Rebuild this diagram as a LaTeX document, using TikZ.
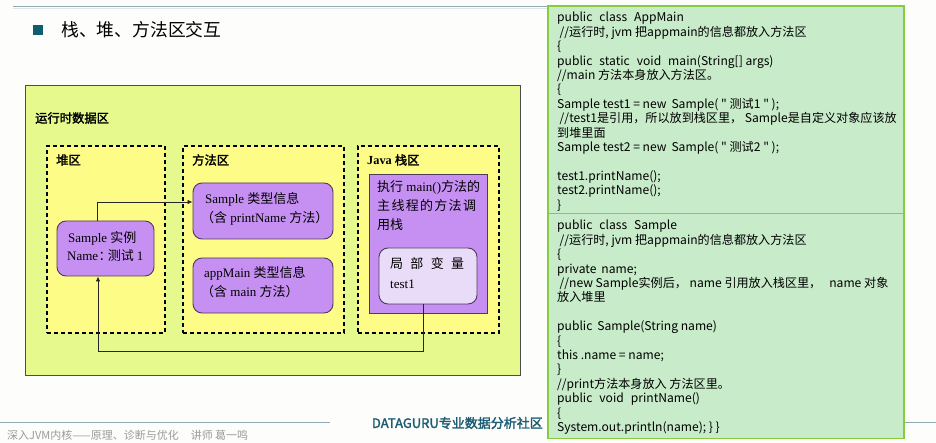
\documentclass[tikz,border=0pt]{standalone}
\usepackage{fontspec}
\setmainfont{Liberation Serif}
\newfontfamily\cjk{Noto Sans CJK SC}[AutoFakeBold=2]
\usetikzlibrary{arrows.meta,calc}

\definecolor{pagebg}{HTML}{FDFDFB}
\definecolor{rulecol}{HTML}{8FA9B4}
\definecolor{bullet}{HTML}{0F5E6E}
\definecolor{runtimefill}{HTML}{E6F98C}
\definecolor{areafill}{HTML}{FDFC86}
\definecolor{purplefill}{HTML}{C690F3}
\definecolor{purpleline}{HTML}{4E3A5C}
\definecolor{lightpurple}{HTML}{E9DCF8}
\definecolor{codefill}{HTML}{C8EBC9}
\definecolor{codeline}{HTML}{86CC3E}
\definecolor{footgray}{HTML}{9A9A9A}
\definecolor{brand}{HTML}{1B5B73}

\newcommand\zh[1]{{\cjk #1}}
\newcommand\codegap{\hspace{7pt}}

\tikzset{
  box/.style={draw, inner sep=0pt, anchor=center},
  runtime/.style={box, fill=runtimefill, draw=black!70, line width=0.9pt},
  area/.style={box, fill=areafill, draw=black, dashed, dash pattern=on 4pt off 3pt, line width=1.2pt},
  infobox/.style={box, fill=purplefill, draw=purpleline, line width=0.9pt, rounded corners=9pt},
  threadbox/.style={box, fill=purplefill, draw=purpleline, line width=0.9pt},
  localbox/.style={box, fill=lightpurple, draw=purpleline, line width=0.9pt, rounded corners=9pt},
  label/.style={anchor=west, inner sep=0pt, font=\fontsize{13}{15}\selectfont},
  heading/.style={anchor=west, inner sep=0pt, font=\fontsize{12.3}{14}\selectfont\bfseries},
  arr/.style={draw=black!85, line width=0.8pt, -{Latex[length=5pt,width=4.5pt]}},
  codebox/.style={draw=codeline, fill=codefill, line width=1.6pt, inner sep=0pt},
  codetext/.style={anchor=north west, inner sep=0pt, align=left,
    font=\cjk\fontsize{12.1}{14.4}\selectfont},
}

\begin{document}
\begin{tikzpicture}[x=1pt,y=-1pt]
\useasboundingbox (0,0) rectangle (936,443);
\fill[pagebg] (0,0) rectangle (936,443);

% header rule, bullet and slide title
\draw[black!10, line width=1.5pt] (13,8.5) -- (548,8.5);
\draw[rulecol, line width=1pt] (13,7) -- (548,7);
\node[fill=bullet, minimum size=10pt, inner sep=0pt] (bul) at (38,30) {};
\node[anchor=west, inner sep=0pt, font=\cjk\fontsize{17.8}{20}\selectfont] (title) at (61,30) {栈、堆、方法区交互};

% runtime data area
\node[runtime, minimum width=495pt, minimum height=290pt] (rt) at (272.5,230) {};
\node[heading] (rtlbl) at (35,118) {\zh{运行时数据区}};

\node[area, minimum width=118pt, minimum height=187pt] (heap) at (106,239.5) {};
\node[area, minimum width=161pt, minimum height=187pt] (method) at (263.5,239.5) {};
\node[area, minimum width=141pt, minimum height=187pt] (stack) at (428.5,239.5) {};
\node[heading] (heaplbl) at (56,160) {\zh{堆区}};
\node[heading] (methodlbl) at (192,160) {\zh{方法区}};
\node[heading] (stacklbl) at (367,160) {Java \zh{栈区}};

% heap object
\node[infobox, minimum width=97pt, minimum height=55pt] (inst) at (105.5,248.5) {};
\node[label] (inst1) at (68,238) {Sample \zh{实例}};
\node[label] (inst2) at (67,256) {Name\kern0.5pt\zh{：}\kern-4pt\zh{测试} 1};

% class information in the method area
\node[infobox, minimum width=140pt, minimum height=56pt] (stype) at (263,211) {};
\node[label] (stype1) at (205,199) {Sample \zh{类型信息}};
\node[label] (stype2) at (201,218) {\zh{（含} printName \zh{方法）}};

\node[infobox, minimum width=140pt, minimum height=55pt] (mtype) at (263,285.5) {};
\node[label] (mtype1) at (204,273) {appMain \zh{类型信息}};
\node[label] (mtype2) at (201,292) {\zh{（含} main \zh{方法）}};

% main thread call stack
\node[threadbox, minimum width=118pt, minimum height=139pt] (thread) at (428,243.5) {};
\node[label] (thr1) at (377,187) {\zh{执行} main()\zh{方法的}};
\node[label] (thr2) at (377,206) {\zh{主\hspace{1.3pt}线\hspace{1.3pt}程\hspace{1.3pt}的\hspace{1.3pt}方\hspace{1.3pt}法\hspace{1.3pt}调}};
\node[label] (thr3) at (377,225) {\zh{用栈}};

\node[localbox, minimum width=98pt, minimum height=56pt] (locals) at (428,276) {};
\node[label] (loc1) at (390,264) {\zh{局\hspace{7.3pt}部\hspace{7.3pt}变\hspace{7.3pt}量}};
\node[label] (loc2) at (390,284) {test1};

% references between the areas
\coordinate (bus) at (0,351);
\draw[arr] ($(inst.north)+(-8.5,0)$) |- ($(stype.west)+(0,-9)$);
\draw[arr] ($(locals.south)+(-5,0)$) |- (bus -| 98,0) -- ($(inst.south)+(-7.5,0)$);

% source listings
\node[codebox, minimum width=356pt, minimum height=208pt] (appmain) at (726,110) {};
\node[codebox, minimum width=356pt, minimum height=225pt] (sample) at (726,326) {};

\node[codetext] (code1) at (557,12) {%
public\codegap class\codegap AppMain\\
\hspace{2.5pt}//运行时, jvm 把appmain的信息都放入方法区\\
\{\\
public\codegap static\codegap void\codegap main(String[] args)\\
//main 方法本身放入方法区。\\
\{\\
Sample test1 = new\hspace{5pt}Sample( " 测试1 " );\\
\hspace{2.5pt}//test1是引用，所以放到栈区里， Sample是自定义对象应该放\\
到堆里面\\
Sample test2 = new\hspace{5pt}Sample( " 测试2 " );\\
~\\
test1.printName();\\
test2.printName();\\
\}};

\node[codetext] (code2) at (557,220) {%
public\codegap class\codegap Sample\\
\hspace{2.5pt}//运行时, jvm 把appmain的信息都放入方法区\\
\{\\
private\hspace{5pt}name;\\
\hspace{2.5pt}//new Sample实例后， name 引用放入栈区里，\hspace{8pt}name 对象\\
放入堆里\\
~\\
public\hspace{5pt}Sample(String name)\\
\{\\
this .name = name;\\
\}\\
//print方法本身放入 方法区里。\\
public\codegap void\codegap printName()\\
\{\\
System.out.println(name); \} \}};

% footer
\draw[rulecol, line width=0.9pt] (0,422.5) -- (330,422.5);
\draw[rulecol, line width=0.9pt] (905,422.5) -- (936,422.5);
\node[anchor=west, inner sep=0pt, text=footgray, font=\cjk\fontsize{11}{13}\selectfont] (course) at (7,435) {深入JVM内核——原理、诊断与优化\hspace{12pt}讲师 葛一鸣};
\node[anchor=east, inner sep=0pt, text=brand, font=\cjk\fontsize{13}{15}\selectfont\bfseries] (brandname) at (543,423) {DATAGURU专业数据分析社区};
\end{tikzpicture}
\end{document}
